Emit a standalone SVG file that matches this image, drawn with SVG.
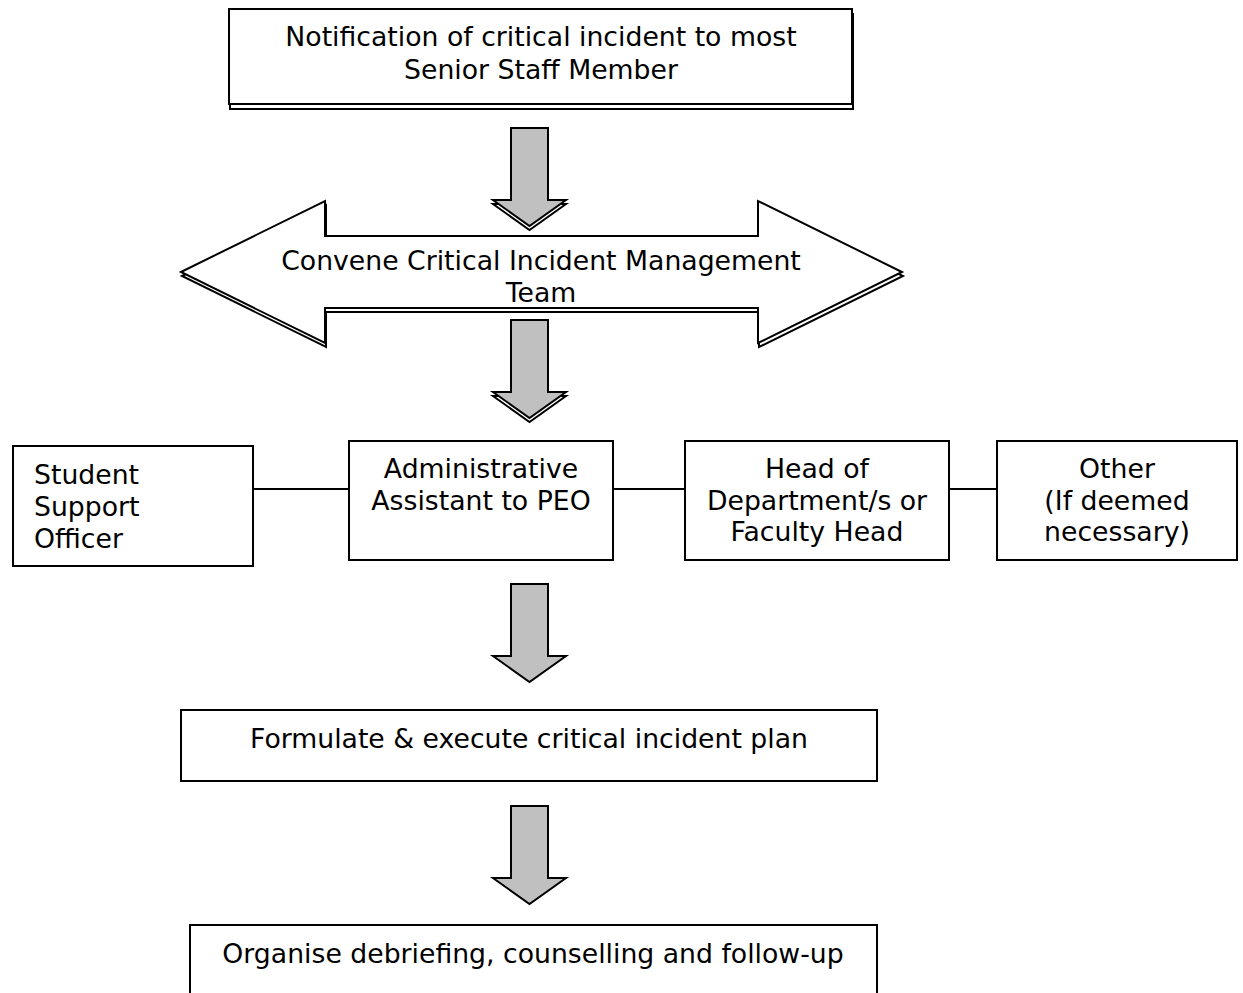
<svg xmlns="http://www.w3.org/2000/svg" width="1243" height="993" viewBox="0 0 1243 993">
<style>
  .box { fill: #ffffff; stroke: #000000; stroke-width: 2; }
  .shadow { fill: #ffffff; stroke: #000000; stroke-width: 2; }
  .arrow { fill: #c0c0c0; stroke: #000000; stroke-width: 2; stroke-linejoin: miter; }
  .link { stroke: #000000; stroke-width: 2; fill: none; }
  text { font-family: "DejaVu Sans", Verdana, sans-serif; font-size: 26.7px; fill: #000000; }
  .c { text-anchor: middle; }
</style>
<defs>
  <polygon id="downArrowShape" points="0,0 37,0 37,72 55,72 18.5,98 -18,72 0,72"/>
</defs>
<rect width="1243" height="993" fill="#ffffff"/>

<g id="connectors">
  <line class="link" x1="253" y1="489" x2="349" y2="489"/>
  <line class="link" x1="613" y1="489" x2="685" y2="489"/>
  <line class="link" x1="949" y1="489" x2="997" y2="489"/>
  <g id="arrow1">
    <use href="#downArrowShape" class="shadow" x="511" y="132"/>
    <use href="#downArrowShape" class="arrow" x="511" y="128"/>
  </g>
  <g id="arrow2">
    <use href="#downArrowShape" class="shadow" x="511" y="324"/>
    <use href="#downArrowShape" class="arrow" x="511" y="320"/>
  </g>
  <g id="arrow3">
    <use href="#downArrowShape" class="arrow" x="511" y="584"/>
  </g>
  <g id="arrow4">
    <use href="#downArrowShape" class="arrow" x="511" y="806"/>
  </g>
</g>

<g id="node-notification">
  <rect class="shadow" x="230" y="14" width="623" height="95"/>
  <rect class="box" x="229" y="9" width="623" height="95"/>
  <text class="c" x="541" y="46">Notification of critical incident to most</text>
  <text class="c" x="541" y="79">Senior Staff Member</text>
</g>

<g id="node-convene">
  <polygon class="shadow" points="182,276 326,205 326,240 759,240 759,205 903,276 759,347 759,312 326,312 326,347"/>
  <polygon class="box" points="181,272 325,201 325,236 758,236 758,201 902,272 758,343 758,308 325,308 325,343"/>
  <text class="c" x="541" y="270">Convene Critical Incident Management</text>
  <text class="c" x="541" y="302">Team</text>
</g>

<g id="node-student">
  <rect class="box" x="13" y="446" width="240" height="120"/>
  <text x="34" y="484">Student</text>
  <text x="34" y="516">Support</text>
  <text x="34" y="548">Officer</text>
</g>

<g id="node-admin">
  <rect class="box" x="349" y="441" width="264" height="119"/>
  <text class="c" x="481" y="478">Administrative</text>
  <text class="c" x="481" y="510">Assistant to PEO</text>
</g>

<g id="node-head">
  <rect class="box" x="685" y="441" width="264" height="119"/>
  <text class="c" x="817" y="478">Head of</text>
  <text class="c" x="817" y="510">Department/s or</text>
  <text class="c" x="817" y="541">Faculty Head</text>
</g>

<g id="node-other">
  <rect class="box" x="997" y="441" width="240" height="119"/>
  <text class="c" x="1117" y="478">Other</text>
  <text class="c" x="1117" y="510">(If deemed</text>
  <text class="c" x="1117" y="541">necessary)</text>
</g>

<g id="node-formulate">
  <rect class="box" x="181" y="710" width="696" height="71"/>
  <text class="c" x="529" y="748">Formulate &amp; execute critical incident plan</text>
</g>

<g id="node-organise">
  <rect class="box" x="190" y="925" width="687" height="80"/>
  <text class="c" x="533" y="963">Organise debriefing, counselling and follow-up</text>
</g>
</svg>
